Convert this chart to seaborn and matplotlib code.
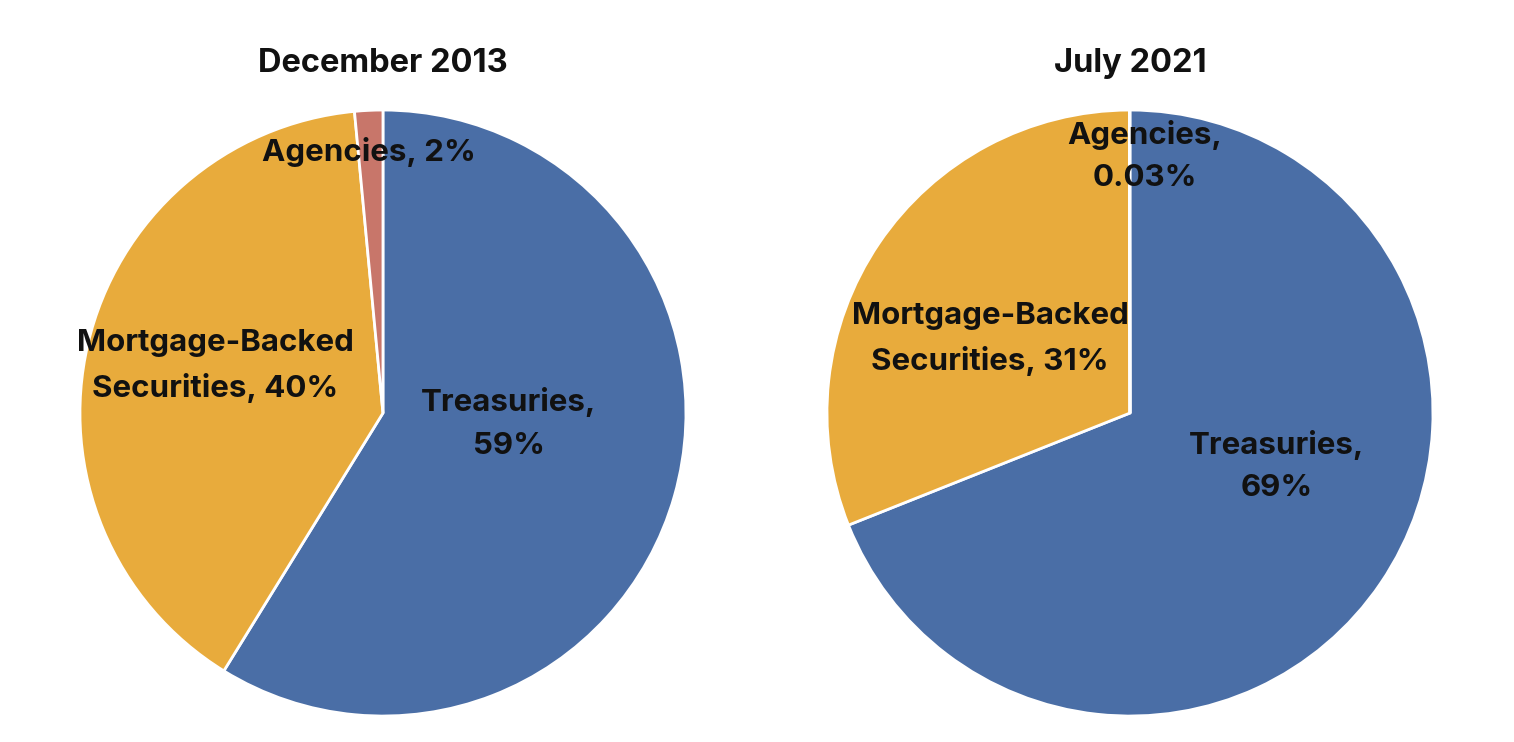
import matplotlib.pyplot as plt
import seaborn as sns

# Fed balance sheet composition, two snapshots
categories = ["Treasuries", "Mortgage-Backed\nSecurities", "Agencies"]
titles = ["December 2013", "July 2021"]
shares_2013 = [58.8, 39.7, 1.5]
shares_2021 = [68.97, 31.0, 0.03]
labels_2013 = ["Treasuries,\n59%", "Mortgage-Backed\nSecurities, 40%", "Agencies, 2%"]
labels_2021 = ["Treasuries,\n69%", "Mortgage-Backed\nSecurities, 31%", "Agencies,\n0.03%"]

# where the label text sits inside the unit circle
label_pos_2013 = [(0.416, -0.035), (-0.554, 0.155), (-0.046, 0.86)]
label_pos_2021 = [(0.483, -0.175), (-0.462, 0.244), (0.05, 0.848)]

sns.set_theme(style="white")
plt.rcParams["font.family"] = ["Inter", "DejaVu Sans"]

colors = ["#4a6ea6", "#e8ab3c", "#c8766a"]

fig = plt.figure(figsize=(15.14, 7.42), dpi=100)
ax_l = fig.add_axes([0.0528, 0.035, 0.4003, 0.8167])
ax_r = fig.add_axes([0.5462, 0.035, 0.4003, 0.8167])

panels = [
    (ax_l, shares_2013, labels_2013, label_pos_2013, titles[0]),
    (ax_r, shares_2021, labels_2021, label_pos_2021, titles[1]),
]

for ax, shares, labels, positions, title in panels:
    ax.pie(
        shares,
        colors=colors,
        startangle=90,
        counterclock=False,
        radius=1.0,
        wedgeprops=dict(edgecolor="white", linewidth=2),
    )
    for lab, (x, y) in zip(labels, positions):
        ax.text(x, y, lab, ha="center", va="center", fontsize=22.5,
                fontweight="bold", color="#111111", linespacing=1.65)
    ax.text(0, 1.155, title, ha="center", va="center", fontsize=23.5,
            fontweight="bold", color="#111111")
    ax.set_xlim(-1.0, 1.0)
    ax.set_ylim(-1.0, 1.0)
    ax.set_aspect("equal")
    ax.axis("off")

fig.savefig("out.png", dpi=100)
